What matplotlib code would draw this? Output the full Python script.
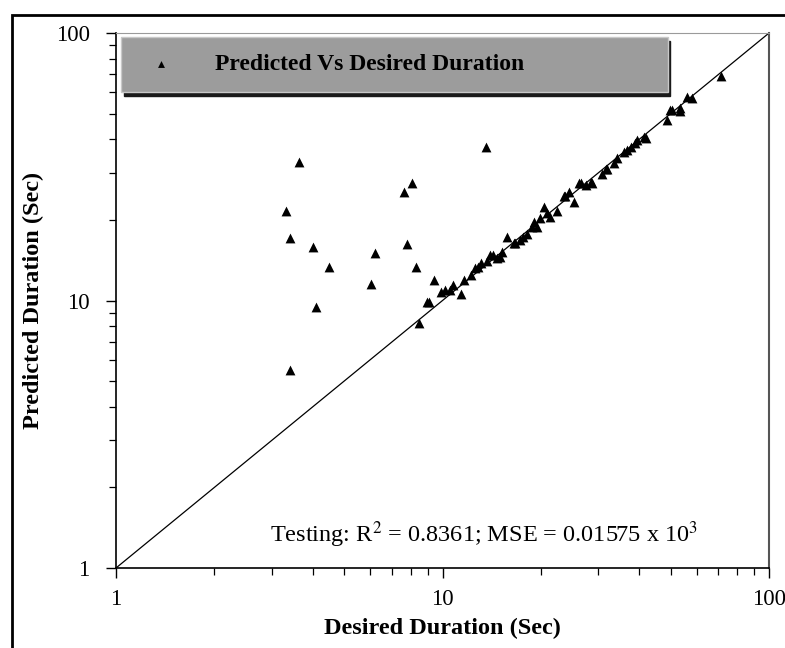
import matplotlib
matplotlib.use('Agg')
import matplotlib.pyplot as plt
from matplotlib.patches import Rectangle
from matplotlib.ticker import LogLocator, NullFormatter, FixedLocator

plt.rcParams['font.family'] = ['Liberation Serif', 'DejaVu Serif']

# Off-diagonal points (desired, predicted)
outlier_desired = [3.63, 3.32, 3.42, 4.01, 4.50, 4.11, 3.42, 6.22, 6.03,
                   7.61, 8.05, 7.81, 8.32, 9.43, 13.55]
outlier_predicted = [33.0, 21.7, 17.2, 15.8, 13.4, 9.48, 5.50, 15.0, 11.5,
                     25.5, 27.4, 16.2, 13.4, 11.9, 37.6]

# Points close to the ideal line
near_desired = [8.50, 8.97, 9.08, 9.86, 10.2, 10.55, 10.8, 11.4, 11.6, 12.2,
                12.6, 12.8, 13.1, 13.7, 14.0, 14.3, 14.7, 15.0, 15.2, 15.8,
                16.5, 16.7, 17.3, 17.7, 18.2, 18.8, 19.0, 19.5, 19.9, 20.4,
                20.9, 21.3, 22.4, 23.5, 23.8, 24.4, 25.3, 26.2, 26.5, 27.5,
                28.5, 28.7, 30.9, 31.6, 32.0, 33.6, 34.2, 36.0, 36.8, 37.8,
                39.0, 39.5, 41.5, 42.0, 48.8, 49.9, 50.6, 53.2, 53.5, 56.2,
                58.2, 71.2]
near_predicted = [8.22, 9.90, 9.90, 10.8, 10.97, 10.97, 11.4, 10.6, 11.9, 12.5,
                  13.2, 13.4, 13.8, 14.0, 14.8, 14.8, 14.4, 14.6, 15.2, 17.3,
                  16.4, 16.4, 16.9, 17.3, 17.8, 18.9, 19.7, 18.9, 20.3, 22.3,
                  21.2, 20.6, 21.6, 24.5, 24.5, 25.5, 23.4, 27.4, 27.4, 27.0,
                  27.7, 27.4, 29.7, 31.1, 31.1, 32.8, 34.0, 36.0, 36.5, 37.6,
                  38.7, 39.9, 41.0, 40.4, 47.2, 51.5, 51.5, 50.9, 52.3, 57.7,
                  57.0, 69.2]

ideal_line = [1, 100]
tick_values = [1, 10, 100]
tick_labels = ['1', '10', '100']

fig = plt.figure(figsize=(7.85, 6.48), dpi=100)
ax = fig.add_axes([0.1478, 0.1235, 0.8318, 0.8255])

# outer frame around the whole figure (cut off on right/bottom like the scan)
fig.patches.append(Rectangle((0.0153, -0.2), 1.2, 1.177, transform=fig.transFigure,
                             fill=False, edgecolor='black', linewidth=2.0, clip_on=False))

ax.plot(ideal_line, ideal_line, color='black', linewidth=0.9, zorder=2)
ax.scatter(near_desired + outlier_desired, near_predicted + outlier_predicted,
           marker='^', s=50, color='black', linewidths=0, zorder=3,
           label='Predicted Vs Desired Duration')

ax.set_xscale('log')
ax.set_yscale('log')
ax.set_xlim(1, 100)
ax.set_ylim(1, 100)

for axis in (ax.xaxis, ax.yaxis):
    axis.set_major_locator(FixedLocator(tick_values))
    axis.set_minor_locator(LogLocator(base=10, subs=range(2, 10)))
    axis.set_minor_formatter(NullFormatter())
ax.set_xticklabels(tick_labels)
ax.set_yticklabels(tick_labels)

ax.tick_params(axis='both', which='major', direction='out', length=7, width=1.0,
               labelsize=16.5, color='black')
ax.tick_params(axis='both', which='minor', direction='out', length=5, width=0.9)
ax.tick_params(axis='x', which='major', pad=8)
ax.tick_params(axis='y', which='major', pad=12)

ax.spines['left'].set_linewidth(1.2)
ax.spines['bottom'].set_linewidth(1.2)
ax.spines['top'].set_color('#9a9a9a')
ax.spines['right'].set_color('#555555')
ax.spines['right'].set_linewidth(1.5)

ax.set_xlabel('Desired Duration (Sec)', fontsize=17.5, fontweight='bold', labelpad=6)
ax.set_ylabel('Predicted Duration (Sec)', fontsize=17.5, fontweight='bold', labelpad=8)

ax.text(0.5635, 0.0617, 'Testing: R$^2$ = 0.8361; MSE = 0.01575 x 10$^3$',
        transform=ax.transAxes, ha='center', va='center', fontsize=17.5,
        math_fontfamily='stix')

leg = ax.legend(loc='upper left', bbox_to_anchor=(0.0077, 0.893, 0.837, 0.0995),
                mode='expand', borderaxespad=0, frameon=True, fancybox=False,
                facecolor='#9c9c9c', edgecolor='#c8c8c8', framealpha=1,
                shadow={'color': '#1a1a1a', 'alpha': 1.0, 'ox': 2, 'oy': -3},
                prop={'weight': 'bold', 'size': 17}, markerscale=0.7,
                handletextpad=1.3, borderpad=0.7, handlelength=2.0)

fig.savefig('out.png', dpi=100)
